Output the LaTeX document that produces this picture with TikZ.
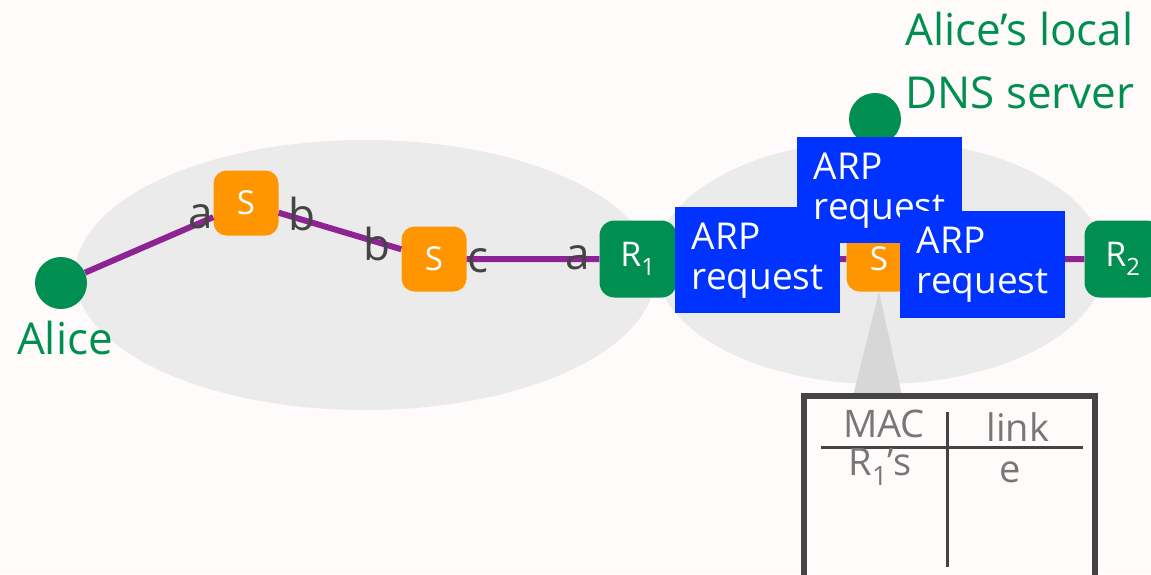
\documentclass[tikz,border=0pt]{standalone}
\usepackage{fontspec}
\setmainfont{Open Sans}
\usetikzlibrary{positioning}
\definecolor{bgcol}{HTML}{FEFBFA}
\definecolor{lan}{HTML}{EBEBEB}
\definecolor{hostgreen}{HTML}{008F50}
\definecolor{swor}{HTML}{FF9500}
\definecolor{linkpurple}{HTML}{8E2494}
\definecolor{arpblue}{HTML}{0033FF}
\definecolor{ink}{HTML}{444444}
\definecolor{tblgray}{HTML}{777777}
\definecolor{calloutgray}{HTML}{D7D7D7}
\tikzset{
  host/.style={circle, fill=hostgreen, minimum size=52pt, inner sep=0},
  switch/.style={rounded corners=13pt, fill=swor, minimum size=65pt, inner sep=0, text=white, font=\fontsize{33}{33}\selectfont},
  router/.style={rounded corners=15pt, fill=hostgreen, minimum size=77pt, inner sep=0, text=white, font=\fontsize{34}{34}\selectfont},
  port/.style={text=ink, font=\fontsize{44}{44}\selectfont, inner sep=0},
  link/.style={linkpurple, line width=6pt},
  arpbox/.style={fill=arpblue, text=white, anchor=north west, minimum width=165pt, minimum height=106pt, inner sep=0, align=left, font=\fontsize{37}{40}\selectfont},
  greenlabel/.style={text=hostgreen, font=\fontsize{44}{63}\selectfont, inner sep=0},
  celltext/.style={text=tblgray, font=\fontsize{38}{38}\selectfont, inner sep=0}
}
\begin{document}
\begin{tikzpicture}[x=1pt, y=-1pt]
  \clip (0,0) rectangle (1151,574);
  \fill [bgcol] (0,0) rectangle (1151,574);
  \fill [lan] (365,275) ellipse [x radius=290, y radius=135];
  \fill [lan] (880,262) ellipse [x radius=225, y radius=122];

  \node (alice) at (61,283) [host] {};
  \node (dns) at (875,119) [host] {};
  \node (s1) at (246,203) [switch] {S};
  \node (s2) at (434,259) [switch] {S};
  \node (s3) at (879,259) [switch] {S};
  \node (r1) at (638,259) [router] {R\textsubscript{1}};
  \node (r2) at (1123,259) [router] {R\textsubscript{2}};
  \draw [link] (alice) -- (s1) -- (s2) -- (r1) -- (s3) -- (r2);

  \node (pa1) at (201,217) [port] {a};
  \node (pb1) at (302,214) [port] {b};
  \node (pb2) at (377,244) [port] {b};
  \node (pc2) at (478,261) [port] {c};
  \node (pa3) at (578,258) [port] {a};

  \node (alicelbl) at (65,338) [greenlabel] {Alice};
  \node (dnslbl) at (905,12) [greenlabel, anchor=north west, align=left] {Alice's local\\DNS server};

  % switch table
  \fill [calloutgray] (s3.south) -- (853,396) -- (902,396) -- cycle;
  \node (tbl) at (801,393) [draw=ink, line width=6pt, fill=bgcol, anchor=north west, minimum width=291pt, minimum height=210pt, inner sep=0] {};
  \draw [ink, line width=3pt] (821,447) -- (1083,447);
  \draw [ink, line width=3pt] (947,412) -- (947,567);
  \node (mac) at (884,424) [celltext] {MAC};
  \node (lnk) at (1018,427) [celltext] {link};
  \node (macr1) at (880,467) [celltext] {R\textsubscript{1}'s};
  \node (porte) at (1010,472) [celltext] {e};

  \node (arp1) at (675,207) [arpbox] {ARP\\request};
  \node (arp2) at (797,137) [arpbox] {ARP\\request};
  \node (arp3) at (900,211) [arpbox, minimum height=107pt] {ARP\\request};
\end{tikzpicture}
\end{document}
